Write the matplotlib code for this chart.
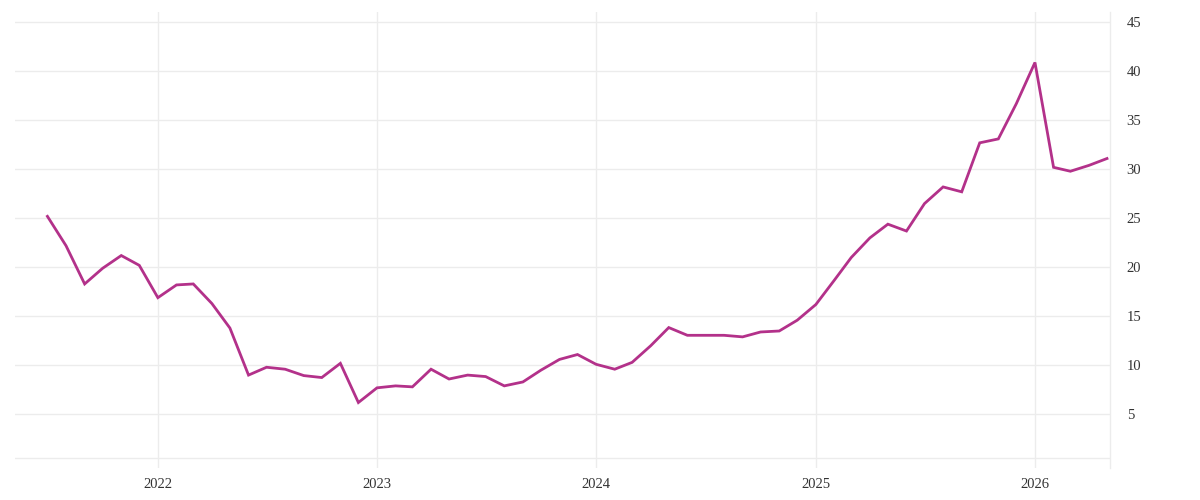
import matplotlib
matplotlib.use("Agg")
import matplotlib.pyplot as plt
import matplotlib.dates as mdates
from datetime import date

start_year, start_month = 2021, 7
values = [
    25.2, 22.2, 18.3, 19.9, 21.2, 20.2,
    16.9, 18.2, 18.3, 16.3, 13.8, 9.0, 9.8, 9.6, 8.95, 8.75, 10.2, 6.2,
    7.7, 7.9, 7.8, 9.6, 8.6, 9.0, 8.85, 7.9, 8.3, 9.5, 10.6, 11.1,
    10.1, 9.6, 10.3, 12.0, 13.85, 13.06, 13.06, 13.06, 12.9, 13.4, 13.5, 14.6,
    16.2, 18.7, 21.0, 23.0, 24.4, 23.7, 26.5, 28.2, 27.7, 32.7, 33.1, 36.7,
    40.9, 30.2, 29.8, 30.4, 31.1,
]
dates = []
y, m = start_year, start_month
for _ in values:
    dates.append(date(y, m, 1))
    m += 1
    if m > 12:
        m = 1
        y += 1

year_ticks = [2022, 2023, 2024, 2025, 2026]
y_ticks = [5, 10, 15, 20, 25, 30, 35, 40, 45]

plt.rcParams['font.family'] = ['Liberation Serif', 'DejaVu Serif']

fig = plt.figure(figsize=(12, 5), dpi=100)
ax = fig.add_axes([15/1200, 1 - 468/500, (1110 - 15)/1200, (468 - 12)/500])

grid_c = '#ececec'
for v in y_ticks + [0.5]:
    ax.axhline(v, color=grid_c, lw=1.0, zorder=0)
for yr in year_ticks:
    ax.axvline(mdates.date2num(date(yr, 1, 1)), color=grid_c, lw=1.0, zorder=0)

ax.plot(dates, values, color='#b3318a', lw=2.0, solid_joinstyle='miter', zorder=3)

ax.set_xlim(date(2021, 5, 8), date(2026, 5, 6))
ax.set_ylim(-0.48, 46.05)

ax.set_xticks([date(yr, 1, 1) for yr in year_ticks])
ax.set_xticklabels([str(yr) for yr in year_ticks])
ax.set_yticks(y_ticks)
ax.set_yticklabels([str(v) for v in y_ticks])
ax.yaxis.tick_right()
ax.tick_params(axis='y', length=0, pad=12, labelsize=10.5, labelcolor='#333333')
ax.tick_params(axis='x', length=0, pad=7, labelsize=10.5, labelcolor='#333333')

for s in ['top', 'left', 'bottom']:
    ax.spines[s].set_visible(False)
ax.spines['right'].set_color(grid_c)
ax.spines['right'].set_linewidth(1.0)

fig.savefig('out.png', dpi=100, facecolor='white')
